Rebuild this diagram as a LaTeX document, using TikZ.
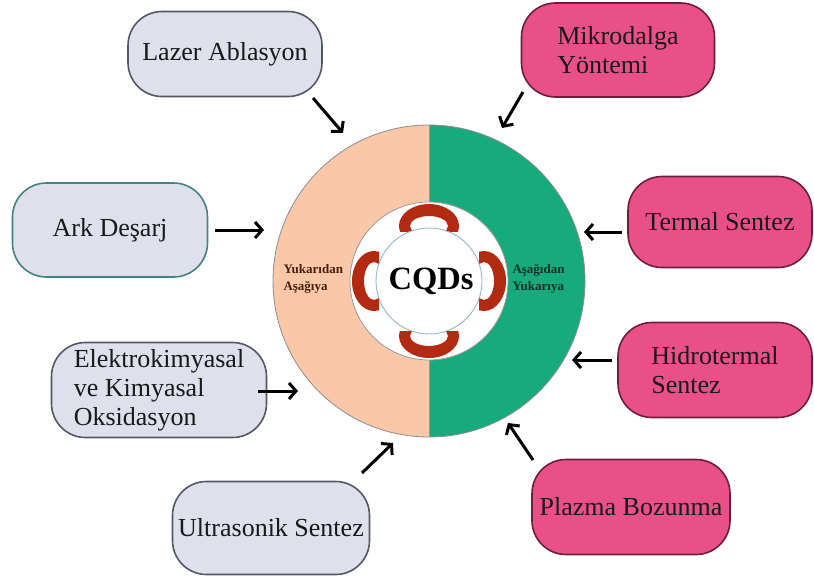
\documentclass[tikz,border=0pt]{standalone}
\usepackage{fontspec}
\setmainfont{Liberation Serif}
\usetikzlibrary{arrows.meta}
\definecolor{peach}{RGB}{250,200,168}
\definecolor{cgreen}{RGB}{22,170,124}
\definecolor{cred}{RGB}{178,42,18}
\definecolor{grayfill}{RGB}{222,225,236}
\definecolor{grayedge}{RGB}{85,88,98}
\definecolor{pinkfill}{RGB}{233,80,136}
\definecolor{pinkedge}{RGB}{110,30,60}
\definecolor{tealedge}{RGB}{70,130,125}
\definecolor{ringline}{RGB}{150,180,200}
\definecolor{tdtext}{RGB}{70,30,10}
\definecolor{butext}{RGB}{10,50,35}
\tikzset{
  pill/.style={rounded corners=34pt, line width=1.6pt, inner sep=0pt,
    font=\fontsize{26}{29}\selectfont, text=black!90, align=left},
  graypill/.style={pill, fill=grayfill, draw=grayedge},
  pinkpill/.style={pill, fill=pinkfill, draw=pinkedge},
  feed/.style={line width=3pt, -{Straight Barb[length=7pt,width=16pt]}},
  sidelabel/.style={font=\bfseries\fontsize{13}{17}\selectfont, align=left, anchor=west}
}
\begin{document}
\begin{tikzpicture}[x=1pt,y=-1pt]
\useasboundingbox (0,0) rectangle (814,576);
\fill[white] (0,0) rectangle (814,576);
% central ring
\coordinate (c) at (429,281);
\fill[peach] (c) circle (156);
\begin{scope}
  \clip (429,100) rectangle (620,460);
  \fill[cgreen] (c) circle (156);
\end{scope}
\draw[black!45, line width=0.8pt] (c) circle (156);
\draw[black!40, line width=0.8pt] (429,125) -- (429,437);
\fill[white] (c) circle (79);
\draw[black!40, line width=0.8pt] (c) circle (79);
% red crescents
\coordinate (ct) at (429,226);
\coordinate (cb) at (429,336);
\coordinate (cl) at (374,281);
\coordinate (cr) at (484,281);
\begin{scope}
  \clip (380,190) rectangle (480,231);
  \fill[cred, even odd rule] (ct) ellipse [x radius=30, y radius=22] (ct) ellipse [x radius=19, y radius=10];
\end{scope}
\begin{scope}
  \clip (380,331) rectangle (480,372);
  \fill[cred, even odd rule] (cb) ellipse [x radius=30, y radius=22] (cb) ellipse [x radius=19, y radius=10];
\end{scope}
\begin{scope}
  \clip (338,231) rectangle (379,331);
  \fill[cred, even odd rule] (cl) ellipse [x radius=22, y radius=30] (cl) ellipse [x radius=10, y radius=19];
\end{scope}
\begin{scope}
  \clip (479,231) rectangle (520,331);
  \fill[cred, even odd rule] (cr) ellipse [x radius=22, y radius=30] (cr) ellipse [x radius=10, y radius=19];
\end{scope}
\fill[white] (c) circle (53);
\draw[ringline, line width=0.9pt] (c) circle (53);
\node[font=\bfseries\fontsize{32.5}{34}\selectfont] (cqd) at (431,281) {CQDs};
\node[sidelabel, text=tdtext] (td) at (280,279) {Yukarıdan\\Aşağıya};
\node[sidelabel, text=butext] (bu) at (509,279) {Aşağıdan\\Yukarıya};
% boxes
\node[graypill, minimum width=194pt, minimum height=85pt] (lazer) at (225,54) {Lazer Ablasyon};
\node[pinkpill, minimum width=193pt, minimum height=94pt] (mikro) at (618,50) {Mikrodalga\\Yöntemi};
\node[graypill, draw=tealedge, minimum width=195pt, minimum height=94pt] (ark) at (110,230) {Ark Deşarj};
\node[pinkpill, minimum width=184pt, minimum height=91pt] (termal) at (720,222) {Termal Sentez};
\node[graypill, minimum width=215pt, minimum height=95pt] (elektro) at (159,390) {Elektrokimyasal\\ve Kimyasal\\Oksidasyon};
\node[pinkpill, minimum width=194pt, minimum height=95pt] (hidro) at (715,370) {Hidrotermal\\Sentez};
\node[graypill, minimum width=197pt, minimum height=93pt] (ultra) at (271,528) {Ultrasonik Sentez};
\node[pinkpill, minimum width=198pt, minimum height=95pt] (plazma) at (631,507) {Plazma Bozunma};
% arrow end points
\coordinate (la1) at (313,98);  \coordinate (la2) at (343,133);
\coordinate (mi1) at (523,92);  \coordinate (mi2) at (502,128);
\coordinate (ar1) at (215,230); \coordinate (ar2) at (264,230);
\coordinate (te1) at (622,232); \coordinate (te2) at (584,232);
\coordinate (el1) at (258,391); \coordinate (el2) at (298,391);
\coordinate (hi1) at (612,360); \coordinate (hi2) at (572,360);
\coordinate (ul1) at (362,473); \coordinate (ul2) at (393,443);
\coordinate (pl1) at (533,460); \coordinate (pl2) at (508,423);
\draw[feed] (la1) -- (la2);
\draw[feed] (mi1) -- (mi2);
\draw[feed] (ar1) -- (ar2);
\draw[feed] (te1) -- (te2);
\draw[feed] (el1) -- (el2);
\draw[feed] (hi1) -- (hi2);
\draw[feed] (ul1) -- (ul2);
\draw[feed] (pl1) -- (pl2);
\end{tikzpicture}
\end{document}
